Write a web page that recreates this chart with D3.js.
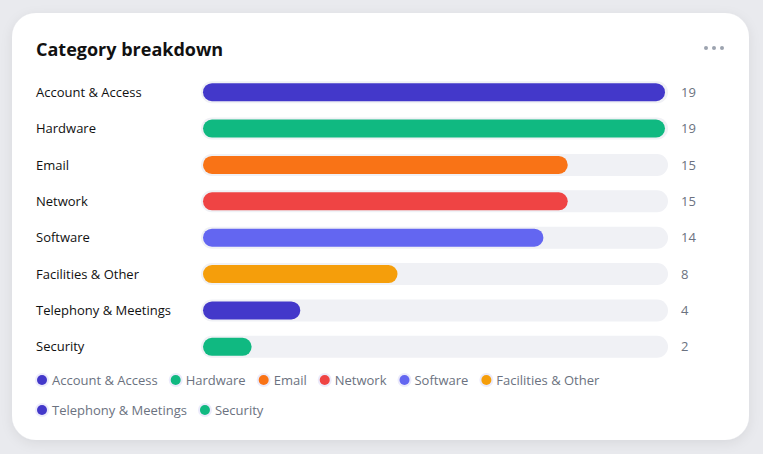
<!DOCTYPE html>
<html><head><meta charset="utf-8">
<script src="https://cdn.jsdelivr.net/npm/d3@7"></script>
<style>
body{margin:0;background:#e9eaee;font-family:"Segoe UI","Open Sans",sans-serif;}
</style></head><body>
<svg id="chart" width="763" height="454"></svg>
<script>
// chart data
let categories = ["Account & Access","Hardware","Email","Network","Software","Facilities & Other","Telephony & Meetings","Security"];
let counts = [19,19,15,15,14,8,4,2];
let colors = ["#4338ca","#10b981","#f97316","#ef4444","#6366f1","#f59e0b","#4338ca","#10b981"];

let svg = d3.select("#chart");
let defs = svg.append("defs");
let f = defs.append("filter").attr("id","sh").attr("x","-10%").attr("y","-10%").attr("width","120%").attr("height","130%");
f.append("feDropShadow").attr("dx",0).attr("dy",3).attr("stdDeviation",6).attr("flood-color","#000").attr("flood-opacity",0.08);

svg.append("rect").attr("x",12).attr("y",13).attr("width",737).attr("height",427)
    .attr("rx",24).attr("fill","#fff").attr("filter","url(#sh)");

svg.append("text").attr("x",36).attr("y",56).text("Category breakdown")
    .attr("font-size",18).attr("font-weight",700).attr("fill","#111");

// menu dots
[706,714,722].forEach(cx => svg.append("circle").attr("cx",cx).attr("cy",48).attr("r",2).attr("fill","#9ca3af"));

let y = d3.scaleBand().domain(categories).range([74,365]).paddingInner(0.4).paddingOuter(0.2);
let x = d3.scaleLinear().domain([0,d3.max(counts)]).range([0,462]);
let trackX = 201, trackW = 467, trackH = 22, barH = 18;

let rows = svg.append("g").selectAll("g").data(categories).join("g")
    .attr("transform", d => `translate(0,${y(d)+y.bandwidth()/2})`);

rows.append("text").attr("x",36).attr("dy","0.35em").text(d => d)
    .attr("font-size",13).attr("fill","#111");
rows.append("rect").attr("x",trackX).attr("y",-trackH/2).attr("width",trackW).attr("height",trackH)
    .attr("rx",trackH/2).attr("fill","#f0f1f5");
rows.append("rect").attr("x",trackX+2).attr("y",-barH/2).attr("height",barH)
    .attr("width",(d,i) => Math.max(barH, x(counts[i]))).attr("rx",barH/2)
    .attr("fill",(d,i) => colors[i]);
rows.append("text").attr("x",681).attr("dy","0.35em").text((d,i) => counts[i])
    .attr("font-size",13).attr("fill","#6b7280");

// legend with wrap
let lg = svg.append("g");
let lx = 42, ly = 380, maxX = 700;
categories.forEach((c,i) => {
    let item = lg.append("g");
    let t = item.append("text").attr("x",10).attr("dy","0.35em").text(c)
        .attr("font-size",13).attr("fill","#6b7280");
    let w = t.node().getComputedTextLength() + 10;
    if (lx + w > maxX) { lx = 42; ly += 30; }
    item.attr("transform",`translate(${lx},${ly})`);
    item.insert("circle","text").attr("r",7).attr("fill","#ecebfb");
    item.insert("circle","text").attr("r",5).attr("fill",colors[i]);
    lx += w + 18;
});
</script>
</body></html>
